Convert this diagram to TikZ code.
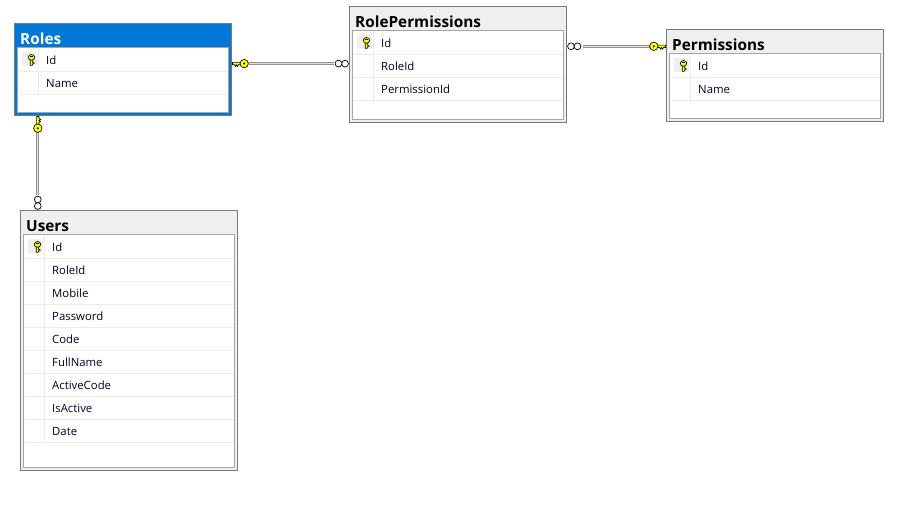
\documentclass[tikz,border=0pt]{standalone}
\usepackage{fontspec}
\setmainfont{Open Sans}
\definecolor{edgegray}{HTML}{7A7A7A}
\definecolor{innergray}{HTML}{A6A6A6}
\definecolor{rowgray}{HTML}{EBEBEB}
\definecolor{headgray}{HTML}{EFEFEF}
\definecolor{selblue}{HTML}{0078D7}
\definecolor{keyyellow}{HTML}{FFFF00}
\tikzset{
  tablebox/.style={draw=edgegray,line width=1bp,fill=headgray,anchor=north west,inner sep=0pt,outer sep=0pt},
  titletext/.style={anchor=base west,inner sep=0pt,font=\fontsize{15.4}{18}\selectfont\bfseries},
  rowtext/.style={anchor=base west,inner sep=0pt,font=\fontsize{11.4}{14}\selectfont,text=black!85!blue},
  keyoutline/.style={draw=black,line width=.65bp,fill=keyyellow},
  rel/.style={draw=gray!85,line width=3.2bp,postaction={draw=gray!25,line width=1bp}},
  manycircle/.style={draw=black,line width=.7bp,fill=white},
  pics/rowkey/.style={code={
    \fill[keyoutline] (-1.3,-.5) -- (1.3,-.5) -- (1.3,2.6) -- (2.6,2.6) -- (2.6,3.6) -- (1.3,3.6) -- (1.3,4.2) -- (.6,5.4) -- (-1.3,5.4) -- cycle;
    \draw[keyoutline] (0,-2.6) circle[x radius=3.2,y radius=2.9];
    \fill[black] (-1.1,-3.6) rectangle (1.1,-2.8);
  }},
  pics/keyend/.style={code={
    \fill[keyoutline] (1,-1.2) -- (10,-1.2) -- (10,1.2) -- (7,1.2) -- (6,2.8) -- (5,1.2) -- (4,2.8) -- (3,1.2) -- (1,1.2) -- cycle;
    \draw[keyoutline] (12.7,0) circle[radius=4.2];
    \fill[black] (12.7,0) circle[radius=1.1];
  }},
  pics/manyend/.style={code={
    \draw[manycircle] (4.5,0) circle[radius=3.4];
    \draw[manycircle] (11,0) circle[radius=3.4];
  }}
}
% name, x0, y0, width, height, header colour, title colour, title, rows
\newcommand{\dbtable}[9]{%
  \node[tablebox,fill=#6,minimum width=#4 bp,minimum height=#5 bp] (#1) at (#2,#3) {};
  \node[titletext,text=#7] (#1-title) at (#2+5.5,#3+20.8) {#8};
  \draw[draw=innergray,line width=1bp,fill=white] (#2+3.2,#3+24) rectangle (#2+#4-3.2,#3+#5-3);
  \foreach \rowtxt [count=\ri] in {#9} {
    \pgfmathsetmacro{\rowtop}{#3+24+23*(\ri-1)}
    \draw[rowgray,line width=1bp] (#2+4,\rowtop+23.7) -- (#2+#4-4,\rowtop+23.7);
    \draw[rowgray,line width=1bp] (#2+24,\rowtop+.5) -- (#2+24,\rowtop+23.7);
    \node[rowtext] (#1-row\ri) at (#2+31.5,\rowtop+17) {\rowtxt};
  }
  \fill[headgray] (#2+7,#3+29) rectangle (#2+22,#3+43);
  \pic at (#2+17,#3+36.5) {rowkey};
}
\begin{document}
\begin{tikzpicture}[x=1bp,y=-1bp]
\useasboundingbox[fill=white] (0,0) rectangle (924,507);

\dbtable{roles}{14.5}{23.5}{217}{92}{selblue}{white}{Roles}{Id,Name}
\dbtable{rolepermissions}{349.5}{6.5}{217}{116}{headgray}{black}{RolePermissions}{Id,RoleId,PermissionId}
\dbtable{permissions}{666.5}{29.5}{217}{92.5}{headgray}{black}{Permissions}{Id,Name}
\dbtable{users}{20.5}{210.5}{217}{260}{headgray}{black}{Users}{Id,RoleId,Mobile,Password,Code,FullName,ActiveCode,IsActive,Date}

\coordinate (rolesR) at (roles.east |- 0,63.6);
\coordinate (rpL) at (rolepermissions.west |- 0,63.6);
\coordinate (rpR) at (rolepermissions.east |- 0,46.3);
\coordinate (permL) at (permissions.west |- 0,46.3);
\coordinate (rolesB) at (roles.south -| 37.8,0);
\coordinate (usersT) at (users.north -| 37.8,0);

\draw[rel,shorten <=17bp,shorten >=16bp] (rolesR) -- (rpL);
\draw[rel,shorten <=16bp,shorten >=16bp] (rpR) -- (permL);
\draw[rel,shorten <=17bp,shorten >=15bp] (rolesB) -- (usersT);

\pic at (rolesR) {keyend};
\pic[rotate=180] at (rpL) {manyend};
\pic at (rpR) {manyend};
\pic[rotate=180,yscale=-1] at (permL) {keyend};
\pic[rotate=-90,yscale=-1] at (rolesB) {keyend};
\pic[rotate=90] at (usersT) {manyend};
\end{tikzpicture}
\end{document}
